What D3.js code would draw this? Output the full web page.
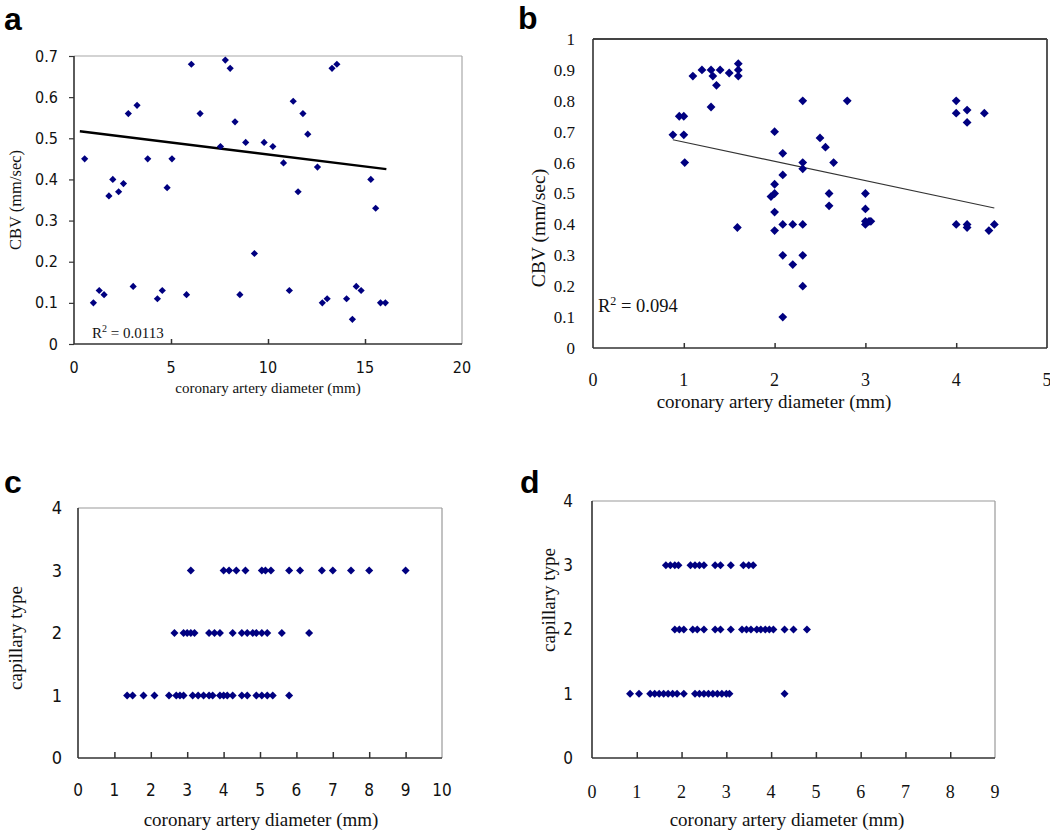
<!DOCTYPE html>
<html><head><meta charset="utf-8">
<script src="https://cdn.jsdelivr.net/npm/d3@7"></script>
<style>body{margin:0;background:#fff}</style></head>
<body><svg id="chart" width="1050" height="831"></svg>
<script>
// ---------- DATA ----------
// Panel a: CBV vs coronary artery diameter
const aX = [0.55,1.0,1.3,1.55,1.8,2.0,2.3,2.55,2.8,3.05,3.25,3.8,4.3,4.55,4.8,5.05,5.8,6.05,6.5,7.55,7.8,8.05,8.3,8.55,8.85,9.3,9.8,10.25,10.8,11.1,11.3,11.55,11.8,12.05,12.55,12.8,13.05,13.3,13.55,14.05,14.35,14.55,14.8,15.3,15.55,15.8,16.05];
const aY = [0.45,0.10,0.13,0.12,0.36,0.40,0.37,0.39,0.56,0.14,0.58,0.45,0.11,0.13,0.38,0.45,0.12,0.68,0.56,0.48,0.69,0.67,0.54,0.12,0.49,0.22,0.49,0.48,0.44,0.13,0.59,0.37,0.56,0.51,0.43,0.10,0.11,0.67,0.68,0.11,0.06,0.14,0.13,0.40,0.33,0.10,0.10];
const aTrendX = [0.3, 16.1];
const aTrendY = [0.517, 0.425];
const aR2 = "0.0113";
const aXTicks = [0,5,10,15,20];
const aYTicks = [0,0.1,0.2,0.3,0.4,0.5,0.6,0.7];

// Panel b
const bX = [0.88,0.95,1.0,1.0,1.01,1.1,1.2,1.3,1.32,1.36,1.3,1.4,1.5,1.6,1.6,1.6,1.59,1.96,2.0,2.0,2.0,2.0,2.0,2.09,2.09,2.09,2.09,2.09,2.2,2.2,2.31,2.31,2.31,2.31,2.31,2.31,2.5,2.56,2.65,2.6,2.6,2.8,3.0,3.0,3.0,3.04,3.0,3.06,4.0,4.0,4.12,4.12,4.31,4.0,4.12,4.12,4.36,4.42];
const bY = [0.69,0.75,0.75,0.69,0.60,0.88,0.90,0.90,0.88,0.85,0.78,0.90,0.89,0.92,0.90,0.88,0.39,0.49,0.50,0.53,0.44,0.38,0.70,0.63,0.56,0.40,0.30,0.10,0.40,0.27,0.40,0.30,0.20,0.80,0.60,0.58,0.68,0.65,0.60,0.50,0.46,0.80,0.50,0.45,0.41,0.41,0.40,0.41,0.80,0.76,0.77,0.73,0.76,0.40,0.40,0.39,0.38,0.40];
const bTrendX = [0.88, 4.42];
const bTrendY = [0.674, 0.453];
const bR2 = "0.094";
const bXTicks = [0,1,2,3,4,5];
const bYTicks = [0,0.1,0.2,0.3,0.4,0.5,0.6,0.7,0.8,0.9,1];

// Panel c: capillary type vs diameter
const cType1 = [1.35,1.5,1.8,2.1,2.5,2.7,2.8,2.9,3.15,3.3,3.45,3.6,3.7,3.9,4.0,4.1,4.25,4.5,4.65,4.9,5.05,5.2,5.35,5.8];
const cType2 = [2.65,2.9,3.0,3.1,3.2,3.6,3.75,3.9,4.25,4.5,4.65,4.8,4.9,5.05,5.2,5.6,6.35];
const cType3 = [3.1,4.0,4.15,4.35,4.6,5.05,5.15,5.3,5.8,6.1,6.7,7.0,7.5,8.0,9.0];
const cXTicks = [0,1,2,3,4,5,6,7,8,9,10];
const cYTicks = [0,1,2,3,4];

// Panel d
const dType1 = [0.85,1.05,1.3,1.4,1.5,1.6,1.7,1.8,1.9,2.05,2.3,2.4,2.5,2.6,2.7,2.8,2.9,3.0,3.07,4.3];
const dType2 = [1.85,1.95,2.05,2.25,2.35,2.5,2.75,2.87,3.1,3.35,3.45,3.55,3.68,3.77,3.87,3.96,4.05,4.3,4.5,4.8];
const dType3 = [1.65,1.75,1.85,1.93,2.2,2.3,2.4,2.5,2.75,2.87,3.1,3.38,3.5,3.6];
const dXTicks = [0,1,2,3,4,5,6,7,8,9];
const dYTicks = [0,1,2,3,4];

const xTitle = "coronary artery diameter (mm)";
const cbvTitle = "CBV (mm/sec)";
const capTitle = "capillary type";

// ---------- DRAW ----------
const svg = d3.select("#chart");
const SANS = "'DejaVu Sans Condensed','DejaVu Sans',Verdana,sans-serif";
const SERIF = "'Liberation Serif','Times New Roman',serif";
const NAVY = "#000080";

function diamond(r){ return `M0,${-r}L${r},0L0,${r}L${-r},0Z`; }

function panel(o){
  const g = svg.append("g");
  const x = d3.scaleLinear().domain(o.xd).range([o.l, o.r]);
  const y = d3.scaleLinear().domain(o.yd).range([o.b, o.t]);
  // frame
  g.append("line").attr("x1",o.l).attr("x2",o.r).attr("y1",o.t).attr("y2",o.t).attr("stroke",o.frameTop).attr("stroke-width",o.frameTopW);
  g.append("line").attr("x1",o.r).attr("x2",o.r).attr("y1",o.t).attr("y2",o.b).attr("stroke",o.frameTop).attr("stroke-width",o.frameTopW);
  // x axis (ticks inside)
  const xa = d3.axisBottom(x).tickValues(o.xt).tickSize(-o.xTickLen).tickFormat("").tickSizeOuter(0);
  const gx = g.append("g").attr("transform",`translate(0,${o.b})`).call(xa);
  gx.select(".domain").remove();
  gx.selectAll(".tick line").attr("stroke",o.axisCol).attr("stroke-width",1.5);
  gx.selectAll(".tick").filter(d=>d===o.xd[0]||d===o.xd[1]).remove();
  // y axis ticks
  const ya = d3.axisLeft(y).tickValues(o.yt).tickSize(o.yTickLen).tickFormat("").tickSizeOuter(0);
  const gy = g.append("g").attr("transform",`translate(${o.l},0)`).call(ya);
  gy.select(".domain").remove();
  gy.selectAll(".tick line").attr("stroke",o.axisCol).attr("stroke-width",1.2);
  // axis lines
  g.append("line").attr("x1",o.l).attr("x2",o.l).attr("y1",o.t).attr("y2",o.b).attr("stroke",o.axisCol).attr("stroke-width",1.6);
  g.append("line").attr("x1",o.l).attr("x2",o.r).attr("y1",o.b).attr("y2",o.b).attr("stroke",o.axisCol).attr("stroke-width",1.6);
  // tick labels
  g.selectAll(".xl").data(o.xt).join("text")
    .attr("x",d=>x(d)).attr("y",o.b+o.xLabOff).attr("text-anchor","middle")
    .attr("font-family",o.xFont).attr("font-size",o.xFs).attr("fill","#111").text(d=>d3.format("~g")(d));
  g.selectAll(".yl").data(o.yt).join("text")
    .attr("x",o.l-o.yLabOff).attr("y",d=>y(d)).attr("dy","0.35em").attr("text-anchor","end")
    .attr("font-family",o.yFont).attr("font-size",o.yFs).attr("fill","#111").text(d=>d3.format("~g")(d));
  // titles
  g.append("text").attr("x",o.xtx).attr("y",o.xty).attr("text-anchor","middle")
    .attr("font-family",SERIF).attr("font-size",o.titleFs).attr("fill","#111").text(xTitle);
  g.append("text").attr("transform",`translate(${o.ytx},${o.yty}) rotate(-90)`).attr("text-anchor","middle")
    .attr("dy","0.35em").attr("font-family",SERIF).attr("font-size",o.yTitleFs).attr("fill","#111").text(o.yTitle);
  // panel letter
  svg.append("text").attr("x",o.lx).attr("y",o.ly).attr("font-family","'Liberation Sans',Arial,sans-serif")
    .attr("font-weight","bold").attr("font-size",32).attr("fill","#000").text(o.letter);
  return {g,x,y};
}

// a
const A = panel({l:74,t:56,r:462,b:344,xd:[0,20],yd:[0,0.7],xt:aXTicks,yt:aYTicks,
  frameTop:"#a8a8a8",frameTopW:1.2,axisCol:"#333",xTickLen:5,yTickLen:5,
  xLabOff:29,yLabOff:16,xFont:SANS,xFs:16,yFont:SANS,yFs:16,
  xtx:268,xty:393,ytx:15,yty:200,titleFs:15,yTitleFs:16.5,yTitle:cbvTitle,letter:"a",lx:4,ly:30});
A.g.append("line").attr("x1",A.x(aTrendX[0])).attr("y1",A.y(aTrendY[0]))
  .attr("x2",A.x(aTrendX[1])).attr("y2",A.y(aTrendY[1])).attr("stroke","#000").attr("stroke-width",2.4);
A.g.selectAll(".pt").data(d3.zip(aX,aY)).join("path")
  .attr("d",diamond(3.6)).attr("transform",d=>`translate(${A.x(d[0])},${A.y(d[1])})`).attr("fill",NAVY);
const ra = A.g.append("text").attr("x",92).attr("y",338).attr("font-family",SERIF).attr("font-size",15).attr("fill","#111");
ra.append("tspan").text("R");
ra.append("tspan").attr("dy",-6).attr("font-size",10).text("2");
ra.append("tspan").attr("dy",6).text(" = " + aR2);

// b
const B = panel({l:593,t:39,r:1047,b:348,xd:[0,5],yd:[0,1],xt:bXTicks,yt:bYTicks,
  frameTop:"#444",frameTopW:1.8,axisCol:"#333",xTickLen:5,yTickLen:0,
  xLabOff:38,yLabOff:18,xFont:SERIF,xFs:18,yFont:SERIF,yFs:17,
  xtx:774,xty:408,ytx:538,yty:228,titleFs:19,yTitleFs:19.5,yTitle:cbvTitle,letter:"b",lx:518,ly:29});
B.g.append("line").attr("x1",B.x(bTrendX[0])).attr("y1",B.y(bTrendY[0]))
  .attr("x2",B.x(bTrendX[1])).attr("y2",B.y(bTrendY[1])).attr("stroke","#333").attr("stroke-width",1.1);
B.g.selectAll(".pt").data(d3.zip(bX,bY)).join("path")
  .attr("d",diamond(4.4)).attr("transform",d=>`translate(${B.x(d[0])},${B.y(d[1])})`).attr("fill",NAVY);
const rb = B.g.append("text").attr("x",598).attr("y",312).attr("font-family",SERIF).attr("font-size",18.5).attr("fill","#111");
rb.append("tspan").text("R");
rb.append("tspan").attr("dy",-7).attr("font-size",12).text("2");
rb.append("tspan").attr("dy",7).text(" = " + bR2);

// c
const C = panel({l:78,t:508,r:442,b:758,xd:[0,10],yd:[0,4],xt:cXTicks,yt:cYTicks,
  frameTop:"#999",frameTopW:1.2,axisCol:"#333",xTickLen:6,yTickLen:0,
  xLabOff:38,yLabOff:16,xFont:SANS,xFs:17,yFont:SANS,yFs:18,
  xtx:261,xty:826,ytx:15,yty:638,titleFs:19,yTitleFs:19,yTitle:capTitle,letter:"c",lx:4,ly:493});
const cPts = [].concat(cType1.map(v=>[v,1]),cType2.map(v=>[v,2]),cType3.map(v=>[v,3]));
C.g.selectAll(".pt").data(cPts).join("path")
  .attr("d",diamond(4)).attr("transform",d=>`translate(${C.x(d[0])},${C.y(d[1])})`).attr("fill",NAVY);

// d
const D = panel({l:592,t:501,r:995,b:758,xd:[0,9],yd:[0,4],xt:dXTicks,yt:dYTicks,
  frameTop:"#999",frameTopW:1.2,axisCol:"#333",xTickLen:6,yTickLen:0,
  xLabOff:40,yLabOff:19,xFont:SERIF,xFs:18,yFont:SANS,yFs:17,
  xtx:787,xty:826,ytx:548,yty:600,titleFs:19,yTitleFs:19,yTitle:capTitle,letter:"d",lx:520,ly:493});
const dPts = [].concat(dType1.map(v=>[v,1]),dType2.map(v=>[v,2]),dType3.map(v=>[v,3]));
D.g.selectAll(".pt").data(dPts).join("path")
  .attr("d",diamond(4)).attr("transform",d=>`translate(${D.x(d[0])},${D.y(d[1])})`).attr("fill",NAVY);
</script></body></html>
